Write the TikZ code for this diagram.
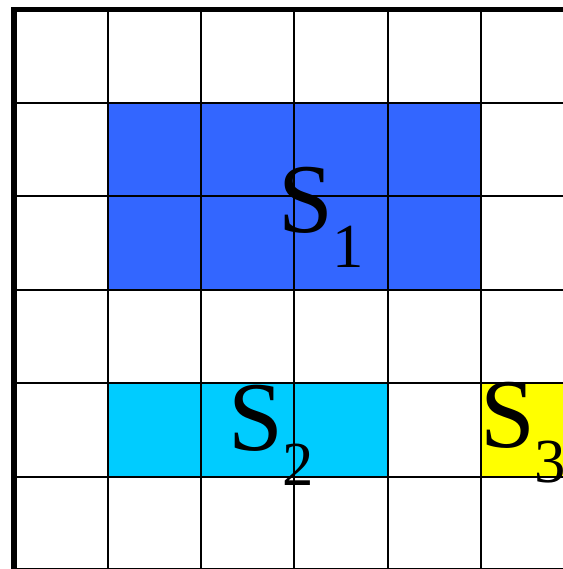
\documentclass[tikz,border=0pt]{standalone}
\usepackage{fontspec}
\setmainfont{Liberation Serif}
\definecolor{sblue}{RGB}{51,102,255}
\definecolor{scyan}{RGB}{0,204,255}
\definecolor{syellow}{RGB}{255,255,0}
\newcommand\mySlab[1]{\fontsize{74}{74}\selectfont S\raisebox{-26.25pt}{\fontsize{47}{47}\selectfont #1}}
\begin{document}
\begin{tikzpicture}[x=0.75pt,y=-0.75pt,
  thin grid/.style={line width=1.5pt,black},
  thick grid/.style={line width=4.2pt,black},
  lab/.style={anchor=base west,inner sep=0pt,outer sep=0pt}]
\useasboundingbox (0,0) rectangle (563,569);
\clip (0,0) rectangle (563,569);
\fill[white] (0,0) rectangle (563,569);
% coloured regions
\fill[sblue] (108,103) rectangle (481,290);
\fill[scyan] (108,383) rectangle (388,477);
\fill[syellow] (481,383) rectangle (600,477);
% grid
\foreach \x in {108,201,294,388,481}
  \draw[thin grid] (\x,9.5) -- (\x,575);
\foreach \y in {103,196,290,383,477,569}
  \draw[thin grid] (14,\y) -- (600,\y);
\draw[thick grid] (11,9.5) -- (600,9.5);
\draw[thick grid] (14,7) -- (14,575);
% labels
\node[lab] (s1) at (278,232) {\mySlab{1}};
\node[lab] (s2) at (228,450) {\mySlab{2}};
\node[lab] (s3) at (480,447) {\mySlab{3}};
\end{tikzpicture}
\end{document}
